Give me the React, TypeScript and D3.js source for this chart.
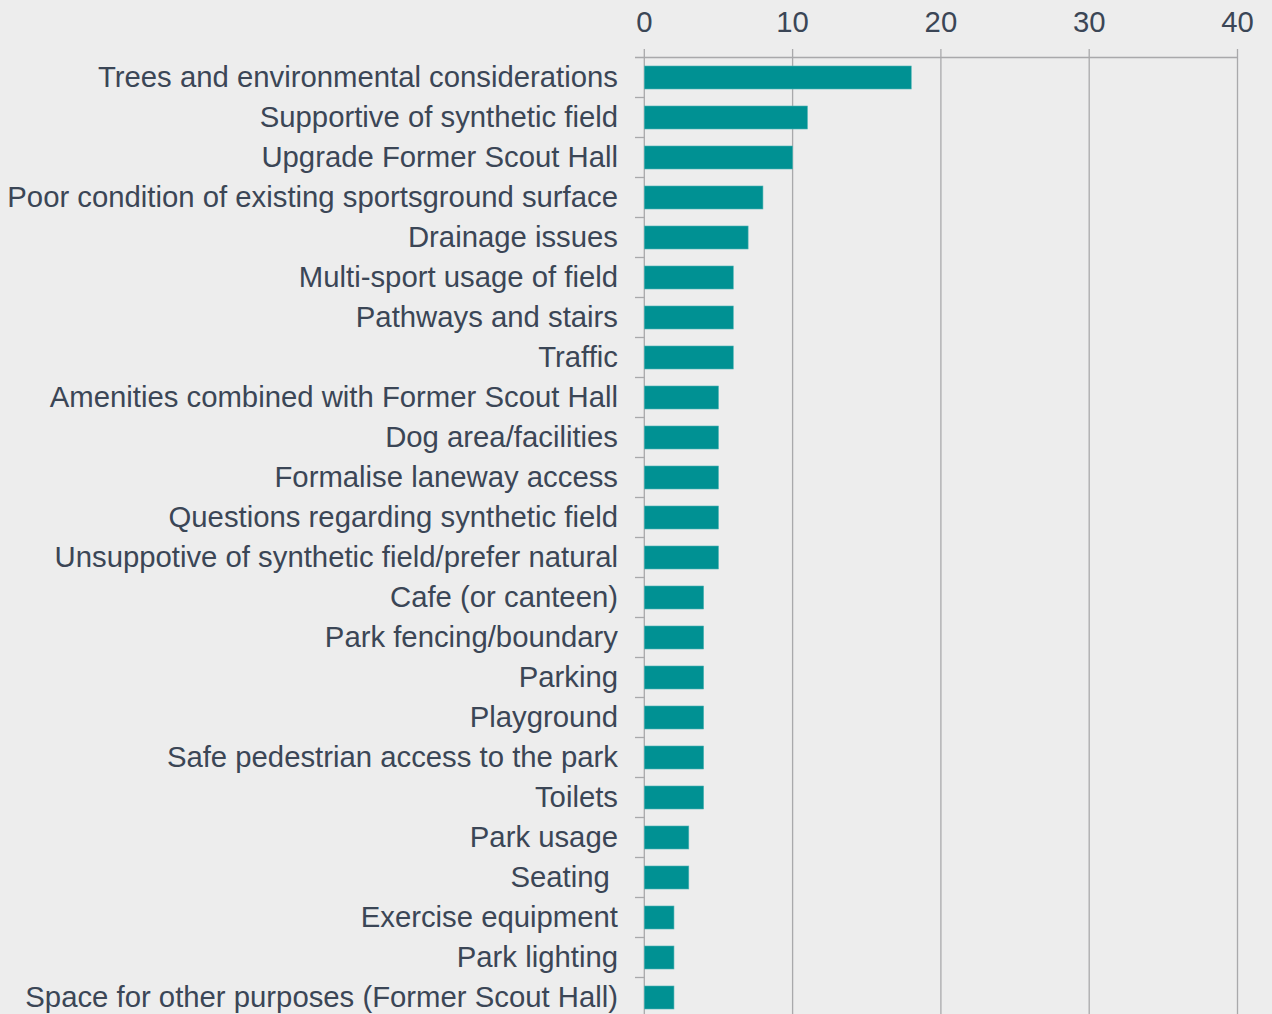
import React from "react";
import * as d3 from "d3";

const categories = [
  "Trees and environmental considerations",
  "Supportive of synthetic field",
  "Upgrade Former Scout Hall",
  "Poor condition of existing sportsground surface",
  "Drainage issues",
  "Multi-sport usage of field",
  "Pathways and stairs",
  "Traffic",
  "Amenities combined with Former Scout Hall",
  "Dog area/facilities",
  "Formalise laneway access",
  "Questions regarding synthetic field",
  "Unsuppotive of synthetic field/prefer natural",
  "Cafe (or canteen)",
  "Park fencing/boundary",
  "Parking",
  "Playground",
  "Safe pedestrian access to the park",
  "Toilets",
  "Park usage",
  "Seating ",
  "Exercise equipment",
  "Park lighting",
  "Space for other purposes (Former Scout Hall)",
];
const values = [18, 11, 10, 8, 7, 6, 6, 6, 5, 5, 5, 5, 5, 4, 4, 4, 4, 4, 4, 3, 3, 2, 2, 2];
const xTicks = [0, 10, 20, 30, 40];

const W = 1272;
const H = 1014;
const left = 644.3;
const right = 1237.5;
const top = 57.5;
const step = 40;

export default function App() {
  const x = d3.scaleLinear().domain([0, 40]).range([left, right]);
  const y = d3
    .scaleBand<string>()
    .domain(categories)
    .range([top, top + step * categories.length])
    .paddingInner(0.425)
    .paddingOuter(0.2125);
  const band = d3
    .scaleBand<string>()
    .domain(categories)
    .range([top, top + step * categories.length]);
  const textColor = "#3b4656";
  const gridColor = "#a9a9ab";
  const font = "'Liberation Sans', Arial, sans-serif";
  return (
    <svg
      width={W}
      height={H}
      style={{ position: "absolute", left: 0, top: 0, background: "#ededed", display: "block" }}
    >
      <rect x={0} y={0} width={W} height={H} fill="#ededed" />
      {xTicks.map((t) => (
        <g key={t}>
          <line x1={x(t)} x2={x(t)} y1={49} y2={H} stroke={gridColor} strokeWidth={1.3} />
          <text
            x={x(t)}
            y={22}
            dy="0.35em"
            textAnchor="middle"
            fontFamily={font}
            fontSize={29.3}
            fill={textColor}
          >
            {t}
          </text>
        </g>
      ))}
      <line x1={635} x2={right} y1={top} y2={top} stroke={gridColor} strokeWidth={1.3} />
      {categories.map((c, i) => (
        <line
          key={"t" + i}
          x1={635}
          x2={left}
          y1={(band(c) as number) + step}
          y2={(band(c) as number) + step}
          stroke={gridColor}
          strokeWidth={1.3}
        />
      ))}
      {categories.map((c, i) => (
        <rect
          key={"b" + i}
          x={x(0)}
          y={y(c)}
          width={x(values[i]) - x(0)}
          height={y.bandwidth()}
          fill="#009193"
          stroke="#4fb3b4"
          strokeWidth={0.6}
        />
      ))}
      {categories.map((c, i) => (
        <text
          key={"l" + i}
          x={618}
          y={(band(c) as number) + step / 2 - 1}
          dy="0.35em"
          textAnchor="end"
          fontFamily={font}
          fontSize={29.3}
          fill={textColor}
          style={{ whiteSpace: "pre" }}
        >
          {c}
        </text>
      ))}
    </svg>
  );
}
